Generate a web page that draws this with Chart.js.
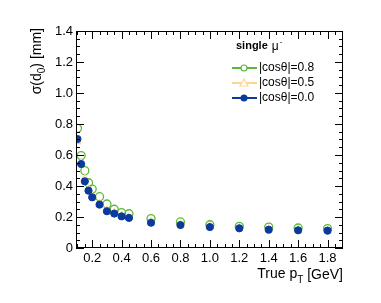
<!DOCTYPE html>
<html>
<head>
<meta charset="utf-8">
<script src="https://cdn.jsdelivr.net/npm/chart.js@4/dist/chart.umd.min.js"></script>
<style>
  html, body { margin: 0; padding: 0; background: #fff; }
  #wrap { width: 381px; height: 303px; }
</style>
</head>
<body>
<div id="wrap"><canvas id="chart" width="381" height="303"></canvas></div>
<script>
// true pT bins [GeV]
const ptValues = [0.1, 0.125, 0.15, 0.175, 0.2, 0.25, 0.3, 0.35, 0.4, 0.45, 0.6, 0.8, 1.0, 1.2, 1.4, 1.6, 1.8];
// sigma(d0) [mm]
const cos08 = [0.772, 0.596, 0.499, 0.421, 0.38, 0.331, 0.284, 0.25, 0.228, 0.221, 0.19, 0.168, 0.15, 0.14, 0.135, 0.129, 0.125];
const cos05 = [0.686, 0.55, 0.45, 0.38, 0.335, 0.285, 0.245, 0.228, 0.208, 0.198, 0.168, 0.152, 0.138, 0.13, 0.121, 0.117, 0.114];
const cos00 = [0.703, 0.542, 0.43, 0.37, 0.327, 0.28, 0.237, 0.222, 0.204, 0.194, 0.163, 0.148, 0.135, 0.127, 0.118, 0.114, 0.112];
const seriesLabels = ["|cosθ|=0.8", "|cosθ|=0.5", "|cosθ|=0.0"];
const xTicks = [0.2, 0.4, 0.6, 0.8, 1.0, 1.2, 1.4, 1.6, 1.8];
const yTicks = [0, 0.2, 0.4, 0.6, 0.8, 1.0, 1.2, 1.4];

const green = "#5cb83a";
const yellow = "#ffd596";
const blue = "#0b3a9c";
const font = "'Liberation Sans', Arial, sans-serif";

const toPoints = (ys) => ptValues.map((x, i) => ({ x: x, y: ys[i] }));

// ROOT style frame: ticks drawn inside the box on all four sides
const framePlugin = {
  id: "frame",
  afterDatasetsDraw(chart) {
    const { ctx, chartArea: a, scales } = chart;
    const xs = scales.x, ys = scales.y;
    ctx.save();
    ctx.strokeStyle = "#000";
    ctx.lineWidth = 1;
    ctx.strokeRect(a.left + 0.5, a.top + 0.5, a.right - a.left - 1, a.bottom - a.top - 1);
    ctx.beginPath();
    for (let v = 0.1; v <= 1.9001; v += 0.05) {
      const px = Math.round(xs.getPixelForValue(v)) + 0.5;
      if (px < a.left || px > a.right) continue;
      const major = Math.abs(v / 0.2 - Math.round(v / 0.2)) < 1e-6;
      const len = major ? 8 : 4;
      ctx.moveTo(px, a.bottom); ctx.lineTo(px, a.bottom - len);
      ctx.moveTo(px, a.top); ctx.lineTo(px, a.top + len);
    }
    for (let v = 0; v <= 1.4001; v += 0.05) {
      const py = Math.round(ys.getPixelForValue(v)) + 0.5;
      const major = Math.abs(v / 0.2 - Math.round(v / 0.2)) < 1e-6;
      const len = major ? 8 : 4;
      ctx.moveTo(a.left, py); ctx.lineTo(a.left + len, py);
      ctx.moveTo(a.right, py); ctx.lineTo(a.right - len, py);
    }
    ctx.stroke();
    ctx.restore();
  },
  afterDraw(chart) {
    const { ctx, chartArea: a } = chart;
    ctx.save();
    ctx.fillStyle = "#000";
    // x title, right aligned
    ctx.textBaseline = "middle";
    ctx.font = "14px " + font;
    const tail = " [GeV]";
    let x = a.right;
    ctx.textAlign = "right";
    ctx.fillText(tail, x, 275);
    x -= ctx.measureText(tail).width;
    ctx.font = "10px " + font;
    ctx.fillText("T", x, 280);
    x -= ctx.measureText("T").width;
    ctx.font = "14px " + font;
    ctx.fillText("True p", x, 274);
    // y title, rotated, right aligned at top
    ctx.translate(37, a.top - 3);
    ctx.rotate(-Math.PI / 2);
    ctx.textAlign = "right";
    let y = 0;
    ctx.font = "14px " + font;
    ctx.fillText(") [mm]", y, 0);
    y -= ctx.measureText(") [mm]").width;
    ctx.font = "10px " + font;
    ctx.fillText("0", y, 5);
    y -= ctx.measureText("0").width;
    ctx.font = "14px " + font;
    ctx.fillText("σ(d", y, 0);
    ctx.restore();

    // legend
    ctx.save();
    ctx.textBaseline = "middle";
    ctx.textAlign = "left";
    ctx.fillStyle = "#000";
    ctx.font = "bold 11px " + font;
    ctx.fillText("single", 236, 46);
    const w = ctx.measureText("single ").width;
    ctx.font = "12px " + font;
    ctx.fillText("μ", 237 + w, 47);
    const mw = ctx.measureText("μ").width;
    ctx.font = "8px " + font;
    ctx.fillText("-", 237 + w + mw + 1, 42);
    const rows = [
      { c: green, y: 68, m: "circleOpen" },
      { c: yellow, y: 83, m: "triangle" },
      { c: blue, y: 98, m: "circleFill" },
    ];
    rows.forEach((r, i) => {
      ctx.strokeStyle = r.c;
      ctx.lineWidth = 2;
      ctx.beginPath();
      ctx.moveTo(232, r.y); ctx.lineTo(257, r.y);
      ctx.stroke();
      ctx.lineWidth = 1.2;
      ctx.beginPath();
      if (r.m === "triangle") {
        ctx.moveTo(244, r.y - 4); ctx.lineTo(248, r.y + 3); ctx.lineTo(240, r.y + 3); ctx.closePath();
        ctx.fillStyle = "#fff"; ctx.fill(); ctx.stroke();
      } else if (r.m === "circleOpen") {
        ctx.arc(244, r.y, 3, 0, Math.PI * 2);
        ctx.fillStyle = "#fff"; ctx.fill(); ctx.stroke();
      } else {
        ctx.arc(244, r.y, 3.5, 0, Math.PI * 2);
        ctx.fillStyle = r.c; ctx.fill();
      }
      ctx.fillStyle = "#000";
      ctx.font = "12px " + font;
      ctx.fillText(seriesLabels[i], 259, r.y);
    });
    ctx.restore();
  },
};

new Chart(document.getElementById("chart").getContext("2d"), {
  type: "scatter",
  data: {
    datasets: [
      {
        label: seriesLabels[1],
        data: toPoints(cos05),
        pointStyle: "triangle",
        pointRadius: 4,
        borderColor: yellow,
        backgroundColor: "rgba(255,255,255,0)",
        borderWidth: 1.2,
        order: 2,
      },
      {
        label: seriesLabels[0],
        data: toPoints(cos08),
        pointStyle: "circle",
        pointRadius: 4,
        borderColor: green,
        backgroundColor: "rgba(255,255,255,0)",
        borderWidth: 1.3,
        order: 3,
      },
      {
        label: seriesLabels[2],
        data: toPoints(cos00),
        pointStyle: "circle",
        pointRadius: 3.6,
        borderColor: blue,
        backgroundColor: blue,
        borderWidth: 1,
        order: 1,
      },
    ],
  },
  options: {
    responsive: false,
    animation: false,
    layout: { padding: { left: 0, top: 31, right: 38, bottom: 0 } },
    plugins: { legend: { display: false }, tooltip: { enabled: false } },
    scales: {
      x: {
        type: "linear",
        min: 0.09,
        max: 1.905,
        afterBuildTicks: (scale) => { scale.ticks = xTicks.map((v) => ({ value: v })); },
        afterFit: (scale) => { scale.height = 55; },
        grid: { display: false, drawTicks: false },
        border: { display: false },
        ticks: { color: "#000", padding: 3, maxRotation: 0, autoSkip: false, font: { family: font, size: 13 } },
      },
      y: {
        type: "linear",
        min: 0,
        max: 1.4,
        afterBuildTicks: (scale) => { scale.ticks = yTicks.map((v) => ({ value: v })); },
        afterFit: (scale) => { scale.width = 76; },
        grid: { display: false, drawTicks: false },
        border: { display: false },
        ticks: { color: "#000", padding: 3, font: { family: font, size: 13 } },
      },
    },
  },
  plugins: [framePlugin],
});
</script>
</body>
</html>
